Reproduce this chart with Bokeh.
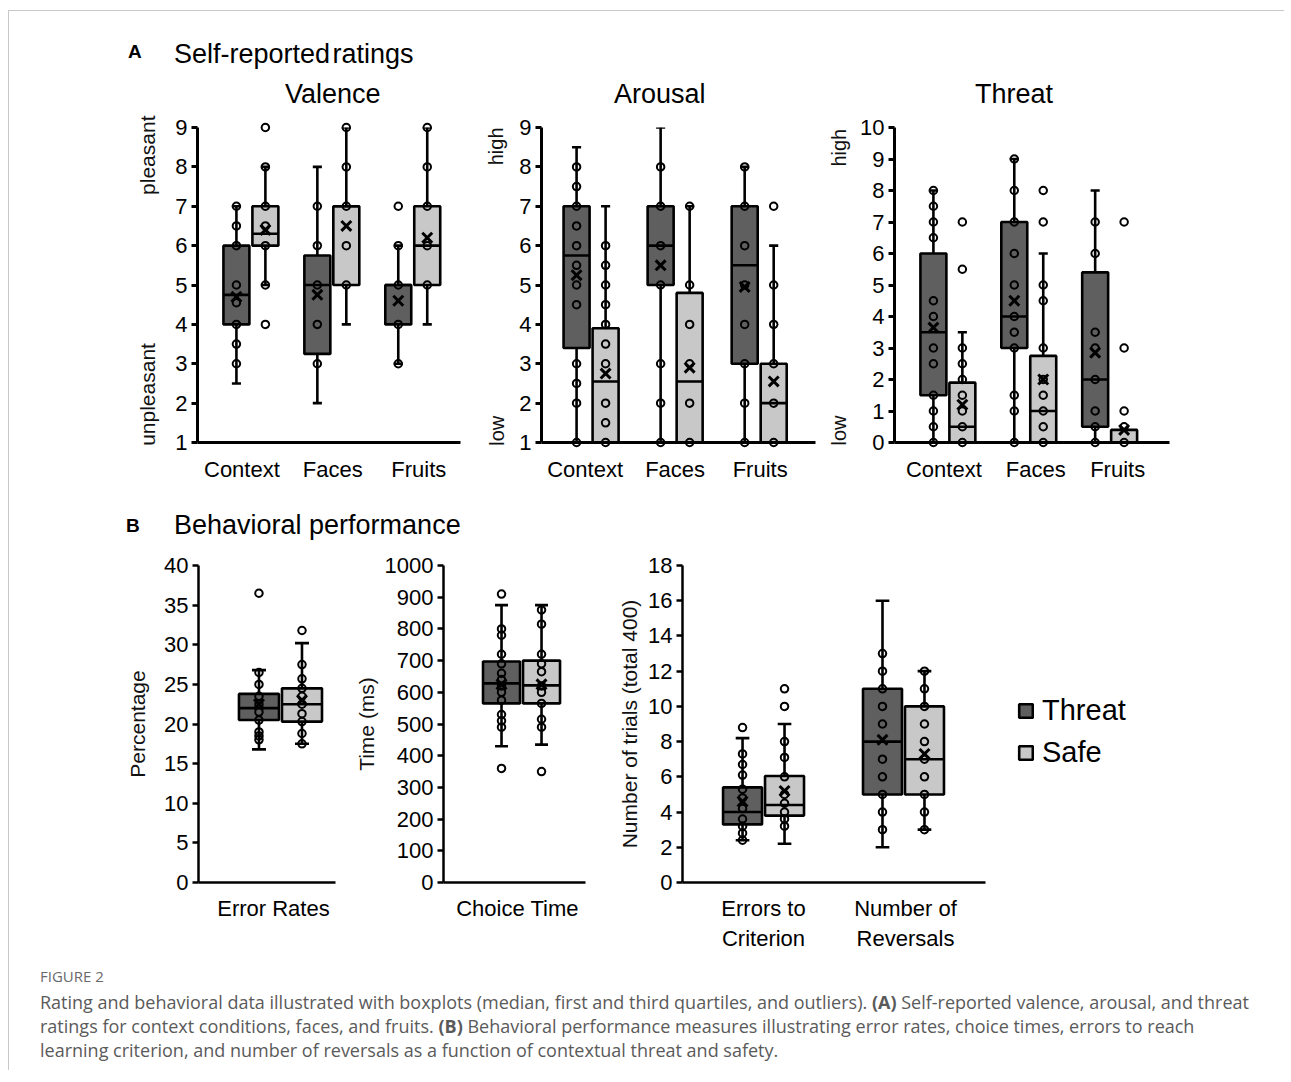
import numpy as np
from bokeh.plotting import figure
from bokeh.models import (ColumnDataSource, Range1d, FixedTicker, Div, Legend, LegendItem, LinearAxis)
from bokeh.layouts import column, row
from bokeh.embed import file_html
from bokeh.resources import INLINE

FONT = "Liberation Sans"
THREAT_COLOR = "#5f5f5f"
SAFE_COLOR = "#c8c8c8"

# ---------------- data ----------------
# box stats per category: (whisker_low, q1, median, q3, whisker_high, mean)
RATING_CATS = ["Context", "Faces", "Fruits"]
RATING_TITLES = ["Valence", "Arousal", "Threat"]

VAL_THREAT = [(2.5, 4.0, 4.75, 6.0, 7.0, 4.7), (2.0, 3.25, 5.0, 5.75, 8.0, 4.75), (3.0, 4.0, 5.0, 5.0, 6.0, 4.6)]
VAL_SAFE = [(5.0, 6.0, 6.3, 7.0, 8.0, 6.4), (4.0, 5.0, 7.0, 7.0, 9.0, 6.5), (4.0, 5.0, 6.0, 7.0, 9.0, 6.2)]
VAL_THREAT_PTS = [[7, 6.5, 6, 5, 4.55, 4, 3.5, 3], [7, 6, 5, 4, 3], [7, 6, 5, 4, 3]]
VAL_SAFE_PTS = [[9, 8, 7, 6.5, 6, 5, 4], [9, 8, 7, 6, 5], [9, 8, 7, 6, 5]]

ARO_THREAT = [(1, 3.4, 5.75, 7.0, 8.5, 5.25), (1, 5.0, 6.0, 7.0, 9.0, 5.5), (1, 3.0, 5.5, 7.0, 8.0, 4.95)]
ARO_SAFE = [(1, 1.0, 2.55, 3.9, 7.0, 2.75), (1, 1.0, 2.55, 4.8, 7.0, 2.9), (1, 1.0, 2.0, 3.0, 6.0, 2.55)]
ARO_THREAT_PTS = [[8, 7.5, 7, 6.5, 6, 5.5, 5, 4.5, 3, 2.5, 2, 1], [8, 7, 6, 5, 3, 2, 1], [8, 7, 6, 5, 4, 3, 2, 1]]
ARO_SAFE_PTS = [[6, 5.5, 5, 4.5, 4, 3.5, 3, 2, 1.5, 1], [7, 5, 4, 3, 2, 1], [7, 5, 4, 3, 2, 1]]

THR_THREAT = [(0, 1.5, 3.5, 6.0, 8.0, 3.65), (0, 3.0, 4.0, 7.0, 9.0, 4.5), (0, 0.5, 2.0, 5.4, 8.0, 2.85)]
THR_SAFE = [(0, 0.0, 0.5, 1.9, 3.5, 1.2), (0, 0.0, 1.0, 2.75, 6.0, 2.0), (0, 0.0, 0.0, 0.4, 0.4, 0.4)]
THR_THREAT_PTS = [[8, 7.5, 7, 6.5, 4.5, 4, 3, 2.5, 1.5, 1, 0.5, 0], [9, 8, 7, 6, 5, 4, 3.5, 3, 1.5, 1, 0],
                  [7, 6, 3.5, 3, 2, 1, 0.5, 0]]
THR_SAFE_PTS = [[7, 5.5, 3, 2.5, 2, 1.5, 1, 0.5, 0], [8, 7, 5, 4.5, 3, 2, 1.5, 1, 0.5, 0], [7, 3, 1, 0.5, 0]]

ERR_CATS = ["Error Rates"]
ERR_THREAT = [(16.8, 20.5, 22.0, 23.8, 26.8, 22.5)]
ERR_SAFE = [(17.5, 20.3, 22.5, 24.5, 30.2, 23.0)]
ERR_THREAT_PTS = [[36.5, 26.5, 25, 23.5, 22.5, 21.5, 20.5, 19, 18.5, 18]]
ERR_SAFE_PTS = [[31.8, 27.5, 25.7, 24.5, 23.5, 22.5, 21.3, 20.3, 18.8, 17.5]]

CT_CATS = ["Choice Time"]
CT_THREAT = [(430, 565, 628, 697, 875, 625)]
CT_SAFE = [(435, 565, 622, 700, 875, 625)]
CT_THREAT_PTS = [[910, 800, 780, 720, 690, 660, 640, 620, 600, 575, 530, 510, 490, 360]]
CT_SAFE_PTS = [[860, 815, 720, 690, 665, 620, 600, 565, 515, 490, 350]]

TR_CATS = ["Errors to\nCriterion", "Number of\nReversals"]
TR_THREAT = [(2.4, 3.3, 4.0, 5.4, 8.2, 4.6), (2.0, 5.0, 8.0, 11.0, 16.0, 8.1)]
TR_SAFE = [(2.2, 3.8, 4.4, 6.05, 9.0, 5.2), (3.0, 5.0, 7.0, 10.0, 12.0, 7.3)]
TR_THREAT_PTS = [[8.8, 7.3, 6.7, 6.1, 5.3, 4.8, 4.2, 3.6, 3.2, 2.8, 2.4], [13, 12, 11, 10, 9, 7, 6, 5, 4, 3]]
TR_SAFE_PTS = [[11, 10, 8, 7.1, 6, 5, 4.5, 4.0, 3.6, 3.2], [12, 11, 10, 9, 8, 7, 6, 5, 4, 3]]

VAL_TICKS = list(range(1, 10))
ARO_TICKS = list(range(1, 10))
THR_TICKS = list(range(0, 11))
ERR_TICKS = list(range(0, 41, 5))
CT_TICKS = list(range(0, 1001, 100))
TR_TICKS = list(range(0, 19, 2))

# end labels of the rating scales: (text, position on the scale)
VAL_ENDS = [("pleasant", 8.37), ("unpleasant", 2.22)]
ARO_ENDS = [("high", 8.52), ("low", 1.3)]
THR_ENDS = [("high", 9.36), ("low", 0.38)]

SERIES = ["Threat", "Safe"]


# ---------------- helpers ----------------
def make_fig(fw, fh, left, right, top, bottom, xr, yr, yticks, cats, axis_w, xstand, ppu, lab_px):
    p = figure(frame_width=fw, frame_height=fh, x_range=Range1d(*xr), y_range=Range1d(*yr),
               output_backend="svg", toolbar_location=None,
               min_border_left=left, min_border_right=right,
               min_border_top=top, min_border_bottom=bottom)
    p.grid.visible = False
    p.outline_line_color = None
    p.background_fill_color = "white"
    p.border_fill_color = "white"
    xa = p.xaxis[0]
    ya = p.yaxis[0]
    # category label positions: category index plus a small pixel nudge
    lab_pos = [round(i + d / ppu, 4) for i, d in enumerate(lab_px)]
    xa.ticker = FixedTicker(ticks=lab_pos)
    xa.major_label_overrides = {v: c for v, c in zip(lab_pos, cats)}
    xa.major_tick_line_color = None
    xa.minor_tick_line_color = None
    xa.major_label_standoff = xstand
    ya.ticker = FixedTicker(ticks=yticks)
    ya.minor_tick_line_color = None
    ya.major_tick_in = 0
    ya.major_tick_out = 6
    ya.major_label_standoff = 4
    for ax in (xa, ya):
        ax.axis_line_width = axis_w
        ax.axis_line_color = "black"
        ax.major_tick_line_width = axis_w
        ax.major_label_text_font = FONT
        ax.major_label_text_font_size = "22px"
        ax.major_label_text_color = "black"
        ax.axis_label_text_font = FONT
        ax.axis_label_text_font_style = "normal"
        ax.axis_label_text_font_size = "21px"
        ax.axis_label_text_color = "#111111"
    return p


def draw_group(p, n, side, ppu, stats, pts, color, hw_px):
    hw = hw_px / ppu
    off = (hw_px + 1.5) / ppu * side
    xs = [i + off for i in range(n)]
    wlo, q1, med, q3, whi, mean = [list(v) for v in zip(*stats)]
    cap = hw * 0.35
    src = ColumnDataSource(dict(x=xs, left=[x - hw for x in xs], right=[x + hw for x in xs],
                                wlo=wlo, q1=q1, med=med, q3=q3, whi=whi, mean=mean))
    lw = 2.6
    p.segment(x0="x", y0="q3", x1="x", y1="whi", source=src, line_color="black", line_width=lw)
    p.segment(x0="x", y0="q1", x1="x", y1="wlo", source=src, line_color="black", line_width=lw)
    hi_idx = [k for k in range(n) if whi[k] > q3[k]]
    lo_idx = [k for k in range(n) if wlo[k] < q1[k]]
    if hi_idx:
        p.segment(x0=[xs[k] - cap for k in hi_idx], y0=[whi[k] for k in hi_idx],
                  x1=[xs[k] + cap for k in hi_idx], y1=[whi[k] for k in hi_idx],
                  line_color="black", line_width=lw)
    if lo_idx:
        p.segment(x0=[xs[k] - cap for k in lo_idx], y0=[wlo[k] for k in lo_idx],
                  x1=[xs[k] + cap for k in lo_idx], y1=[wlo[k] for k in lo_idx],
                  line_color="black", line_width=lw)
    box = p.quad(left="left", right="right", bottom="q1", top="q3", source=src,
                 fill_color=color, line_color="black", line_width=lw)
    p.segment(x0="left", y0="med", x1="right", y1="med", source=src, line_color="black", line_width=lw)
    px, py = [], []
    for k, vals in enumerate(pts):
        px += [xs[k]] * len(vals)
        py += list(vals)
    r = p.scatter(px, py, marker="circle", size=7.5, fill_alpha=0, line_color="black", line_width=2)
    r.level = "overlay"
    m = p.scatter(x="x", y="mean", source=src, marker="x", size=14, line_color="black", line_width=3)
    m.level = "overlay"
    return box


def add_end_labels(p, ends, standoff, size):
    ax = LinearAxis(ticker=FixedTicker(ticks=[v for _, v in ends]),
                    major_label_overrides={v: t for t, v in ends})
    ax.axis_line_color = None
    ax.major_tick_line_color = None
    ax.minor_tick_line_color = None
    ax.major_label_orientation = "vertical"
    ax.major_label_standoff = standoff
    ax.major_label_text_font = FONT
    ax.major_label_text_font_size = size
    ax.major_label_text_color = "#111111"
    p.add_layout(ax, "left")


# ---------------- panel A ----------------
R1_T, R1_B = 12, 53

p_val = make_fig(263, 315, 188, 10, R1_T, R1_B, (-0.66, 2.59), (1, 9), VAL_TICKS, RATING_CATS, 3, 8,
                 81, [-9, 1, 6])
draw_group(p_val, 3, -1, 81, VAL_THREAT, VAL_THREAT_PTS, THREAT_COLOR, 13)
draw_group(p_val, 3, 1, 81, VAL_SAFE, VAL_SAFE_PTS, SAFE_COLOR, 13)
add_end_labels(p_val, VAL_ENDS, 7, "21px")

p_aro = make_fig(274, 315, 71, 10, R1_T, R1_B, (-0.59, 2.67), (1, 9), ARO_TICKS, RATING_CATS, 3, 8,
                 84, [-6, 0, 1])
draw_group(p_aro, 3, -1, 84, ARO_THREAT, ARO_THREAT_PTS, THREAT_COLOR, 13)
draw_group(p_aro, 3, 1, 84, ARO_SAFE, ARO_SAFE_PTS, SAFE_COLOR, 13)
add_end_labels(p_aro, ARO_ENDS, 3, "20px")

p_thr = make_fig(275, 315, 65, 35, R1_T, R1_B, (-0.66, 2.74), (0, 10), THR_TICKS, RATING_CATS, 3, 8,
                 81, [-4, 7, 8])
draw_group(p_thr, 3, -1, 81, THR_THREAT, THR_THREAT_PTS, THREAT_COLOR, 13)
draw_group(p_thr, 3, 1, 81, THR_SAFE, THR_SAFE_PTS, SAFE_COLOR, 13)
add_end_labels(p_thr, THR_ENDS, 1, "20px")

# ---------------- panel B ----------------
R2_T, R2_B = 17, 78

p_err = make_fig(137, 317, 189, 10, R2_T, R2_B, (-0.745, 0.5), (0, 40), ERR_TICKS, ERR_CATS, 2.5, 7,
                 110, [-7])
draw_group(p_err, 1, -1, 110, ERR_THREAT, ERR_THREAT_PTS, THREAT_COLOR, 20)
draw_group(p_err, 1, 1, 110, ERR_SAFE, ERR_SAFE_PTS, SAFE_COLOR, 20)
p_err.yaxis[0].axis_label = "Percentage"
p_err.yaxis[0].axis_label_standoff = 12

p_ct = make_fig(142, 317, 98, 10, R2_T, R2_B, (-0.65, 0.533), (0, 1000), CT_TICKS, CT_CATS, 2.5, 7,
                120, [-4])
draw_group(p_ct, 1, -1, 120, CT_THREAT, CT_THREAT_PTS, THREAT_COLOR, 18.5)
draw_group(p_ct, 1, 1, 120, CT_SAFE, CT_SAFE_PTS, SAFE_COLOR, 18.5)
p_ct.yaxis[0].axis_label = "Time (ms)"
p_ct.yaxis[0].axis_label_standoff = 4

p_tr = make_fig(303, 317, 87, 10, R2_T, R2_B, (-0.579, 1.586), (0, 18), TR_TICKS, TR_CATS, 2.5, 7,
                140, [0, 2])
draw_group(p_tr, 2, -1, 140, TR_THREAT, TR_THREAT_PTS, THREAT_COLOR, 19.5)
draw_group(p_tr, 2, 1, 140, TR_SAFE, TR_SAFE_PTS, SAFE_COLOR, 19.5)
p_tr.yaxis[0].axis_label = "Number of trials (total 400)"
p_tr.yaxis[0].axis_label_standoff = 4

# legend lives in its own small figure to the right
p_leg = figure(width=200, height=R2_T + 317 + R2_B, x_range=Range1d(0, 1), y_range=Range1d(0, 1),
               x_axis_type=None, y_axis_type=None, output_backend="svg", toolbar_location=None,
               min_border=0, outline_line_color=None)
p_leg.grid.visible = False
leg_threat = p_leg.quad(left=[5], right=[6], bottom=[5], top=[6], fill_color=THREAT_COLOR,
                        line_color="black", line_width=2.6)
leg_safe = p_leg.quad(left=[5], right=[6], bottom=[5], top=[6], fill_color=SAFE_COLOR,
                      line_color="black", line_width=2.6)
legend = Legend(items=[LegendItem(label=SERIES[0], renderers=[leg_threat]),
                       LegendItem(label=SERIES[1], renderers=[leg_safe])],
                location=(22, 113), orientation="vertical")
legend.label_text_font = FONT
legend.label_text_font_size = "29px"
legend.label_text_color = "black"
legend.glyph_width = 17
legend.glyph_height = 17
legend.label_standoff = 8
legend.spacing = 9
legend.padding = 0
legend.margin = 0
legend.border_line_color = None
legend.background_fill_alpha = 0
p_leg.add_layout(legend)

# ---------------- texts ----------------
sp = "position:absolute;white-space:nowrap;"
title_lefts = [276, 605, 966]
titles_html = "".join(
    f"<span style=\"{sp}left:{lx}px;top:70px;font-size:27px;line-height:27px\">{t}</span>"
    for t, lx in zip(RATING_TITLES, title_lefts))
header_a = Div(width=1192, height=104, margin=0, text=(
    "<div style=\"position:relative;width:1192px;height:104px;font-family:'Liberation Sans';color:#000\">"
    f"<span style=\"{sp}left:119px;top:31px;font-size:19px;font-weight:bold;line-height:19px\">A</span>"
    f"<span style=\"{sp}left:165px;top:30px;font-size:27px;line-height:27px;word-spacing:-5px\">"
    "Self-reported ratings</span>" + titles_html + "</div>"))

header_b = Div(width=1192, height=53, margin=0, text=(
    "<div style=\"position:relative;width:1192px;height:53px;font-family:'Liberation Sans';color:#000\">"
    f"<span style=\"{sp}left:117px;top:21px;font-size:19px;font-weight:bold;line-height:19px\">B</span>"
    f"<span style=\"{sp}left:165px;top:17px;font-size:27px;line-height:27px\">Behavioral performance</span></div>"))

cap_style = ("position:absolute;left:31px;font-size:18px;line-height:18px;white-space:nowrap;"
             "color:#5a5a5a")
caption = Div(width=1275, height=110, margin=0, text=(
    "<div style=\"position:relative;width:1275px;height:110px;font-family:'Open Sans'\">"
    "<div style=\"position:absolute;left:31px;top:9px;font-size:15px;line-height:15px;color:#6a6a6a\">FIGURE 2</div>"
    f"<div style=\"{cap_style};top:33px\">Rating and behavioral data illustrated with boxplots (median, first and "
    "third quartiles, and outliers). <b>(A)</b> Self-reported valence, arousal, and threat</div>"
    f"<div style=\"{cap_style};top:57px\">ratings for context conditions, faces, and fruits. <b>(B)</b> Behavioral "
    "performance measures illustrating error rates, choice times, errors to reach</div>"
    f"<div style=\"{cap_style};top:81px\">learning criterion, and number of reversals as a function of contextual "
    "threat and safety.</div></div>"))

layout = column(header_a, row(p_val, p_aro, p_thr), header_b, row(p_err, p_ct, p_tr, p_leg), caption,
                margin=(10, 0, 0, 8),
                styles={"border-top": "1px solid #c8c8c8", "border-left": "1px solid #c8c8c8"})

open("out.html", "w").write(file_html(layout, INLINE))
